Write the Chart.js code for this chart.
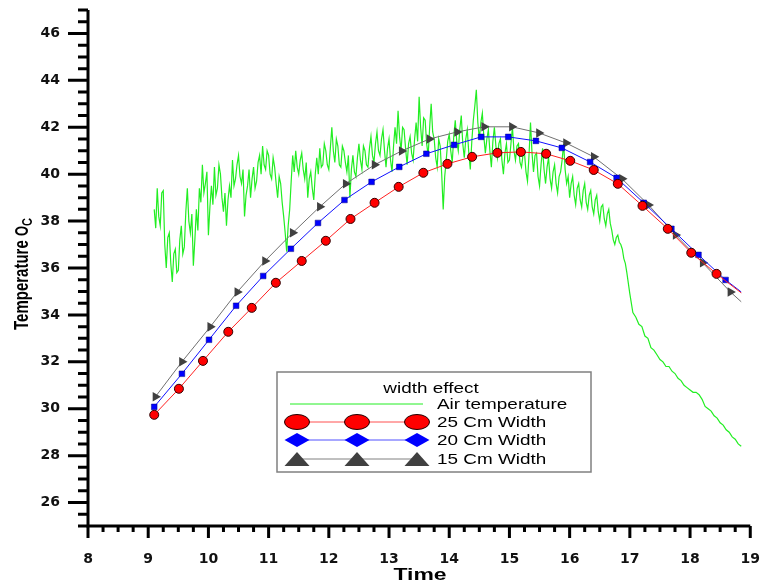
<!DOCTYPE html>
<html>
<head>
<meta charset="utf-8">
<script src="https://cdn.jsdelivr.net/npm/chart.js@4.4.1/dist/chart.umd.min.js"></script>
<style>
  html, body { margin: 0; padding: 0; background: #fff; }
  canvas { display: block; }
</style>
</head>
<body>
<canvas id="chart" width="760" height="583"></canvas>
<script>
// axis ranges and tick labels
const xMin = 8, xMax = 19, yMin = 25, yMax = 47;
const xTicks = [8, 9, 10, 11, 12, 13, 14, 15, 16, 17, 18, 19];
const yTicks = [26, 28, 30, 32, 34, 36, 38, 40, 42, 44, 46];
const xMinorStep = 0.25, yMinorStep = 0.5;

const legendTitle = 'width effect';
const seriesNames = ['Air temperature', '25 Cm Width', '20 Cm Width', '15 Cm Width'];

// 25 Cm width (last value = end of line, no marker)
const redTime = [9.10, 9.51, 9.91, 10.33, 10.72, 11.12, 11.55, 11.95, 12.36, 12.76, 13.16, 13.57, 13.97,
  14.38, 14.80, 15.19, 15.61, 16.01, 16.40, 16.80, 17.21, 17.63, 18.02, 18.44, 18.85];
const redTemp = [29.74, 30.85, 32.04, 33.28, 34.30, 35.37, 36.30, 37.16, 38.09, 38.78, 39.46, 40.06, 40.44,
  40.74, 40.91, 40.95, 40.87, 40.57, 40.18, 39.59, 38.65, 37.67, 36.65, 35.75, 34.94];

// 20 Cm width
const blueTime = [9.10, 9.56, 10.01, 10.46, 10.91, 11.37, 11.82, 12.26, 12.71, 13.17, 13.62, 14.08,
  14.53, 14.98, 15.44, 15.87, 16.34, 16.78, 17.23, 17.69, 18.14, 18.59, 18.85];
const blueTemp = [30.08, 31.49, 32.94, 34.39, 35.66, 36.82, 37.92, 38.90, 39.67, 40.31, 40.87, 41.25,
  41.59, 41.59, 41.42, 41.12, 40.52, 39.84, 38.78, 37.67, 36.56, 35.49, 34.98];

// 15 Cm width
const grayTime = [9.12, 9.56, 10.03, 10.48, 10.94, 11.40, 11.85, 12.28, 12.76, 13.21, 13.67, 14.13,
  14.58, 15.04, 15.49, 15.94, 16.40, 16.87, 17.31, 17.76, 18.21, 18.67, 18.85];
const grayTemp = [30.51, 32.00, 33.49, 34.98, 36.30, 37.50, 38.61, 39.59, 40.40, 40.99, 41.50, 41.80,
  42.02, 42.02, 41.76, 41.33, 40.74, 39.80, 38.69, 37.41, 36.22, 34.98, 34.56];

// air temperature
const airTime = [
  9.1, 9.125, 9.15, 9.175, 9.2, 9.225, 9.25, 9.275, 9.3, 9.325, 9.35, 9.375, 9.4, 9.425, 9.45, 9.475,
  9.5, 9.525, 9.55, 9.575, 9.6, 9.625, 9.65, 9.675, 9.7, 9.725, 9.75, 9.775, 9.8, 9.825, 9.85, 9.875, 9.9, 9.925, 9.95, 9.975,
  10.0, 10.025, 10.05, 10.075, 10.1, 10.125, 10.15, 10.175, 10.2, 10.225, 10.25, 10.275, 10.3, 10.325, 10.35, 10.375, 10.4, 10.425, 10.45, 10.475,
  10.5, 10.525, 10.55, 10.575, 10.6, 10.625, 10.65, 10.675, 10.7, 10.725, 10.75, 10.775, 10.8, 10.825, 10.85, 10.875, 10.9, 10.925, 10.95, 10.975,
  11.0, 11.025, 11.05, 11.075, 11.1, 11.125, 11.15, 11.175, 11.2, 11.225, 11.25, 11.275, 11.3, 11.325, 11.35, 11.375, 11.4, 11.425, 11.45, 11.475,
  11.5, 11.525, 11.55, 11.575, 11.6, 11.625, 11.65, 11.675, 11.7, 11.725, 11.75, 11.775, 11.8, 11.825, 11.85, 11.875, 11.9, 11.925, 11.95, 11.975,
  12.0, 12.025, 12.05, 12.075, 12.1, 12.125, 12.15, 12.175, 12.2, 12.225, 12.25, 12.275, 12.3, 12.325, 12.35, 12.375, 12.4, 12.425, 12.45, 12.475,
  12.5, 12.525, 12.55, 12.575, 12.6, 12.625, 12.65, 12.675, 12.7, 12.725, 12.75, 12.775, 12.8, 12.825, 12.85, 12.875, 12.9, 12.925, 12.95, 12.975,
  13.0, 13.025, 13.05, 13.075, 13.1, 13.125, 13.15, 13.175, 13.2, 13.225, 13.25, 13.275, 13.3, 13.325, 13.35, 13.375, 13.4, 13.425, 13.45, 13.475,
  13.5, 13.525, 13.55, 13.575, 13.6, 13.625, 13.65, 13.675, 13.7, 13.725, 13.75, 13.775, 13.8, 13.825, 13.85, 13.875, 13.9, 13.925, 13.95, 13.975,
  14.0, 14.025, 14.05, 14.075, 14.1, 14.125, 14.15, 14.175, 14.2, 14.225, 14.25, 14.275, 14.3, 14.325, 14.35, 14.375, 14.4, 14.425, 14.45, 14.475,
  14.5, 14.525, 14.55, 14.575, 14.6, 14.625, 14.65, 14.675, 14.7, 14.725, 14.75, 14.775, 14.8, 14.825, 14.85, 14.875, 14.9, 14.925, 14.95, 14.975,
  15.0, 15.025, 15.05, 15.075, 15.1, 15.125, 15.15, 15.175, 15.2, 15.225, 15.25, 15.275, 15.3, 15.325, 15.35, 15.375, 15.4, 15.425, 15.45, 15.475,
  15.5, 15.525, 15.55, 15.575, 15.6, 15.625, 15.65, 15.675, 15.7, 15.725, 15.75, 15.775, 15.8, 15.825, 15.85, 15.875, 15.9, 15.925, 15.95, 15.975,
  16.0, 16.025, 16.05, 16.075, 16.1, 16.125, 16.15, 16.175, 16.2, 16.225, 16.25, 16.275, 16.3, 16.325, 16.35, 16.375, 16.4, 16.425, 16.45, 16.475,
  16.5, 16.525, 16.55, 16.575, 16.6, 16.625, 16.65, 16.675, 16.7, 16.725, 16.75, 16.775, 16.8, 16.825, 16.85, 16.875, 16.9, 16.925,
  16.95, 17.0, 17.05, 17.1, 17.15, 17.2, 17.25, 17.3, 17.35, 17.4, 17.45, 17.5, 17.55, 17.6, 17.65, 17.7, 17.75, 17.8, 17.85, 17.9, 17.95,
  18.0, 18.05, 18.1, 18.15, 18.2, 18.25, 18.3, 18.35, 18.4, 18.45, 18.5, 18.55, 18.6, 18.65, 18.7, 18.75, 18.8, 18.85];
const airTemp = [
  38.5, 37.7, 39.4, 38.2, 37.8, 39.2, 39.3, 37.0, 36.0, 37.3, 37.5, 36.2, 35.4, 36.6, 36.8, 35.8,
  35.9, 37.2, 37.8, 36.6, 36.9, 38.4, 39.4, 38.0, 37.5, 38.3, 36.1, 37.2, 38.5, 37.6, 39.4, 38.8, 40.4, 39.2, 39.6, 40.1,
  37.4, 38.6, 39.5, 38.7, 40.3, 39.1, 39.4, 40.4, 40.0, 39.0, 38.4, 39.2, 37.8, 38.9, 39.5, 39.0, 40.6, 39.5, 39.8, 40.4,
  40.8, 39.9, 39.6, 40.2, 38.2, 39.1, 39.5, 40.2, 39.0, 39.8, 40.3, 39.4, 39.7, 40.5, 40.8, 40.0, 41.2, 40.4, 40.2, 41.0,
  40.8, 40.0, 39.8, 40.7, 40.3, 39.6, 39.0, 39.9, 39.6, 38.8, 38.2, 37.5, 36.7, 37.8, 38.5, 39.7, 40.8, 40.1, 41.0, 40.3,
  40.0, 40.6, 40.9, 40.2, 39.8, 40.5, 39.0, 39.8, 40.1, 39.4, 38.9, 40.0, 40.7, 40.0, 41.1, 40.3, 40.4, 41.3, 41.0, 40.4,
  40.2, 41.1, 42.0, 41.0, 40.5, 41.5, 41.2, 40.4, 40.3, 41.2, 41.0, 40.5, 40.1, 40.8, 39.0, 40.2, 40.8, 40.1, 39.9, 40.7,
  41.3, 40.6, 40.2, 41.2, 41.0, 40.4, 40.3, 41.1, 41.6, 40.8, 40.5, 41.3, 41.8, 41.0, 40.8, 41.5, 41.9, 41.0, 40.3, 41.1,
  41.5, 40.6, 40.1, 41.2, 42.0, 41.3, 42.7, 41.6, 41.0, 42.0, 41.9, 41.1, 40.4, 41.3, 41.6, 40.9, 40.6, 41.5, 42.2, 41.4,
  43.3, 42.0, 41.2, 42.4, 42.3, 41.3, 40.8, 42.0, 43.0, 41.8, 41.5, 40.7, 40.3, 41.5, 41.2, 40.0, 38.5, 39.9, 40.6, 41.4,
  41.7, 41.0, 40.5, 41.6, 42.3, 41.4, 41.0, 41.9, 42.5, 41.3, 40.7, 41.5, 41.9, 40.9, 40.2, 41.4, 42.3, 42.9, 43.6, 42.2,
  41.5, 42.2, 42.6, 41.6, 40.9, 41.5, 41.9, 41.0, 40.3, 41.4, 42.0, 41.2, 40.7, 41.3, 41.5, 40.6, 40.0, 40.9, 41.3, 40.5,
  40.6, 41.3, 42.0, 41.0, 40.6, 41.2, 41.3, 40.5, 40.3, 40.8, 40.9, 40.1, 39.7, 40.8, 42.2, 40.9, 40.1, 40.8, 40.9, 39.9,
  39.5, 40.4, 41.1, 40.2, 39.6, 40.3, 40.7, 39.8, 39.4, 40.1, 40.4, 39.6, 39.2, 39.9, 40.1, 40.6, 41.3, 40.2, 39.6, 39.9,
  39.0, 39.6, 39.9, 39.1, 38.7, 39.4, 39.6, 38.9, 38.6, 39.3, 39.6, 38.8, 38.5, 39.1, 39.3, 38.6, 38.3, 38.9, 39.1, 38.4,
  38.0, 38.6, 38.7, 38.1, 37.8, 38.3, 38.5, 37.9, 37.6, 37.2, 37.0, 37.3, 37.4, 37.1, 37.0, 36.8, 36.4, 36.2,
  35.8, 34.9, 34.1, 33.9, 33.6, 33.5, 33.1, 33.0, 32.6, 32.5, 32.3, 32.1, 32.0, 31.8, 31.8, 31.6, 31.5, 31.3, 31.2, 31.0, 30.9,
  30.8, 30.7, 30.7, 30.6, 30.4, 30.1, 30.0, 29.9, 29.7, 29.6, 29.4, 29.3, 29.1, 29.0, 28.8, 28.7, 28.5, 28.4];

const toPoints = (xs, ys) => xs.map((x, i) => ({ x: x, y: ys[i] }));
const lastNoMarker = (arr, r) => ctx => ctx.dataIndex === arr.length - 1 ? 0 : r;

const colAir = '#22ee22', colRed = '#ff0000', colBlue = '#0000ff', colGray = '#404040';

// text drawn wider, like the original export
function wideText(ctx, text, x, y, font, align, sx) {
  ctx.save();
  ctx.font = font;
  ctx.textAlign = align || 'left';
  ctx.textBaseline = 'alphabetic';
  ctx.translate(x, y);
  ctx.scale(sx || 1.35, 1);
  ctx.fillText(text, 0, 0);
  ctx.restore();
}

const originAxes = {
  id: 'originAxes',
  afterDraw(chart) {
    const { ctx, chartArea: a, scales: { x, y } } = chart;
    ctx.save();
    ctx.strokeStyle = '#000';
    ctx.fillStyle = '#000';
    ctx.lineWidth = 3;
    ctx.beginPath();
    ctx.moveTo(a.left, a.top);
    ctx.lineTo(a.left, a.bottom);
    ctx.lineTo(a.right, a.bottom);
    ctx.stroke();

    // y ticks, outward to the left
    const ny = Math.round((yMax - yMin) / yMinorStep);
    ctx.beginPath();
    for (let i = 0; i <= ny; i++) {
      const v = yMin + i * yMinorStep;
      const py = y.getPixelForValue(v);
      const len = yTicks.includes(v) ? 20 : 10;
      ctx.moveTo(a.left, py);
      ctx.lineTo(a.left - len, py);
    }
    ctx.stroke();

    // x ticks, outward downward
    const nx = Math.round((xMax - xMin) / xMinorStep);
    ctx.beginPath();
    for (let i = 0; i <= nx; i++) {
      const v = xMin + i * xMinorStep;
      const px = x.getPixelForValue(v);
      const len = xTicks.includes(v) ? 12 : 6;
      ctx.moveTo(px, a.bottom);
      ctx.lineTo(px, a.bottom + len);
    }
    ctx.stroke();

    // axis titles
    wideText(ctx, 'Time', 420, 580, 'bold 17px "Liberation Sans", Arial', 'center');

    ctx.save();
    ctx.translate(28, 330);
    ctx.rotate(-Math.PI / 2);
    ctx.scale(1, 1.35);
    ctx.font = 'bold 15px "Liberation Sans", Arial';
    ctx.textAlign = 'left';
    ctx.fillText('Temperature ', 0, 0);
    let w = ctx.measureText('Temperature ').width;
    ctx.font = 'bold 13px "Liberation Sans", Arial';
    ctx.fillText('O', w, 0);
    w += ctx.measureText('O').width;
    ctx.font = 'bold 11px "Liberation Sans", Arial';
    ctx.fillText('C', w, 3);
    ctx.restore();
    ctx.restore();
  }
};

const boxLegend = {
  id: 'boxLegend',
  afterDraw(chart) {
    const ctx = chart.ctx;
    const L = 277, T = 372, W = 314, H = 100;
    ctx.save();
    ctx.fillStyle = '#fff';
    ctx.fillRect(L, T, W, H);
    ctx.strokeStyle = '#808080';
    ctx.lineWidth = 1.5;
    ctx.strokeRect(L, T, W, H);

    ctx.fillStyle = '#000';
    const font = '14px "Liberation Sans", Arial';
    wideText(ctx, legendTitle, L + W / 2 - 3, T + 21, font, 'center');

    const rows = [T + 32, T + 50, T + 68, T + 87];
    const mx = [297, 357, 417];
    const textX = 437;

    // air temperature: plain line
    ctx.strokeStyle = colAir;
    ctx.lineWidth = 1;
    ctx.beginPath(); ctx.moveTo(290, rows[0]); ctx.lineTo(423, rows[0]); ctx.stroke();

    // marker rows
    const lineCols = ['#ff5050', '#5050ff', '#808080'];
    for (let r = 1; r <= 3; r++) {
      const cy = rows[r];
      ctx.strokeStyle = lineCols[r - 1];
      ctx.lineWidth = 1;
      ctx.beginPath(); ctx.moveTo(mx[0], cy); ctx.lineTo(mx[2], cy); ctx.stroke();
      mx.forEach(cx => {
        ctx.beginPath();
        if (r === 1) {
          ctx.ellipse(cx, cy, 12.5, 7.5, 0, 0, Math.PI * 2);
          ctx.fillStyle = colRed; ctx.fill();
          ctx.strokeStyle = '#200000'; ctx.lineWidth = 1; ctx.stroke();
        } else if (r === 2) {
          ctx.moveTo(cx - 12.5, cy); ctx.lineTo(cx, cy - 7); ctx.lineTo(cx + 12.5, cy); ctx.lineTo(cx, cy + 7);
          ctx.closePath();
          ctx.fillStyle = colBlue; ctx.fill();
        } else {
          ctx.moveTo(cx - 12.5, cy + 7); ctx.lineTo(cx, cy - 7); ctx.lineTo(cx + 12.5, cy + 7);
          ctx.closePath();
          ctx.fillStyle = colGray; ctx.fill();
        }
      });
    }
    ctx.fillStyle = '#000';
    rows.forEach((cy, i) => wideText(ctx, seriesNames[i], textX, cy + 5, font, 'left'));
    ctx.restore();
  }
};

const tickFont = { family: '"DejaVu Sans", sans-serif', weight: 'bold', size: 14 };

new Chart(document.getElementById('chart'), {
  type: 'line',
  data: {
    datasets: [
      {
        label: seriesNames[1], data: toPoints(redTime, redTemp), order: 1,
        borderColor: '#ff2020', borderWidth: 1, backgroundColor: colRed,
        pointStyle: 'circle', pointRadius: lastNoMarker(redTime, 4.5),
        pointBorderColor: '#300000', pointBorderWidth: 1
      },
      {
        label: seriesNames[2], data: toPoints(blueTime, blueTemp), order: 2,
        borderColor: '#1010ff', borderWidth: 1, backgroundColor: colBlue,
        pointStyle: 'rect', pointRadius: lastNoMarker(blueTime, 4),
        pointBorderColor: '#000080', pointBorderWidth: 0.5
      },
      {
        label: seriesNames[3], data: toPoints(grayTime, grayTemp), order: 3,
        borderColor: '#707070', borderWidth: 1, backgroundColor: colGray,
        pointStyle: 'triangle', pointRotation: 90, pointRadius: lastNoMarker(grayTime, 5.5),
        pointBorderColor: colGray, pointBorderWidth: 0
      },
      {
        label: seriesNames[0], data: toPoints(airTime, airTemp), order: 4,
        borderColor: colAir, borderWidth: 1.2, pointRadius: 0, tension: 0
      }
    ]
  },
  options: {
    responsive: false,
    animation: false,
    devicePixelRatio: 1,
    layout: { padding: { top: 10, right: 8, left: 0, bottom: 0 } },
    plugins: { legend: { display: false }, tooltip: { enabled: false } },
    scales: {
      x: {
        type: 'linear', min: xMin, max: xMax,
        grid: { display: false, drawTicks: true, tickLength: 25 }, border: { display: false },
        afterBuildTicks: s => { s.ticks = xTicks.map(v => ({ value: v })); },
        afterFit: s => { s.height = 57; },
        ticks: { padding: 0, font: tickFont, color: '#111', maxRotation: 0, autoSkip: false }
      },
      y: {
        type: 'linear', min: yMin, max: yMax,
        grid: { display: false, drawTicks: true, tickLength: 28 }, border: { display: false },
        afterBuildTicks: s => { s.ticks = yTicks.map(v => ({ value: v })); },
        afterFit: s => { s.width = 88; },
        ticks: { padding: 0, font: tickFont, color: '#111', autoSkip: false }
      }
    }
  },
  plugins: [originAxes, boxLegend]
});
</script>
</body>
</html>
